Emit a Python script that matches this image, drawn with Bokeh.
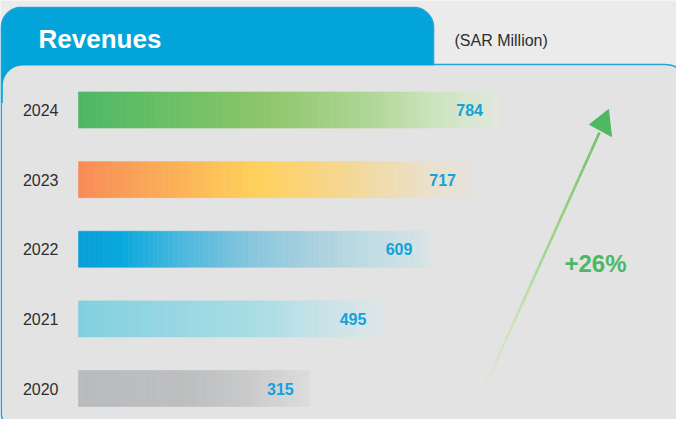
import numpy as np
from bokeh.plotting import figure
from bokeh.models import Range1d, ColumnDataSource
from bokeh.core.properties import value
from bokeh.embed import file_html
from bokeh.resources import INLINE

# ---------------- data ----------------
years = [2024, 2023, 2022, 2021, 2020]
revenues = [784, 717, 609, 495, 315]
title_text = "Revenues"
unit_text = "(SAR Million)"
growth_text = "+26%"

# ---------------- styles ----------------
BG = "#ebebeb"
PANEL = "#e3e3e3"
BLUE = "#03a4d9"
LINE_BLUE = "#22a4db"
VALUE_BLUE = "#13a2da"
GREEN = "#4cb865"
FONT = "Liberation Sans"

bar_stops = {
    2024: [(0.0, "#4cb765"), (0.25, "#6ec164"), (0.45, "#8fc66a"), (0.68, "#acd693"),
           (0.85, "#cde4be"), (1.0, "#e2e8df")],
    2023: [(0.0, "#f98b55"), (0.1, "#f99b58"), (0.25, "#fbb256"), (0.45, "#ffd15b"),
           (0.62, "#f8d584"), (0.79, "#efdcb1"), (0.89, "#ebe0cc"), (1.0, "#e6e2dc")],
    2022: [(0.0, "#0a9fd8"), (0.12, "#08a8dc"), (0.3, "#4db8de"), (0.5, "#8ac6dd"),
           (0.7, "#aed3df"), (0.85, "#c2dde4"), (1.0, "#d8e4e6")],
    2021: [(0.0, "#82d0df"), (0.4, "#9cd9e4"), (0.6, "#abdde5"), (0.8, "#c8e3e8"),
           (1.0, "#dde6e8")],
    2020: [(0.0, "#b8bbbe"), (0.5, "#bdbfc0"), (0.75, "#cacbcc"), (1.0, "#dcdcdd")],
}

W, H = 676, 419          # figure size (page margin 8px)
OX, OY = 8, 8            # page offset of figure

# value scale (bars begin at BASE)
PX_PER_VAL = 0.4034
ZERO_PX = 190.2           # page pixel where value 0 would sit
BASE = (86 - ZERO_PX) / PX_PER_VAL
x_start = (OX - ZERO_PX) / PX_PER_VAL
x_end = (OX + W - ZERO_PX) / PX_PER_VAL

PX_PER_YEAR = 69.625
Y_TOP_PX = 117.5          # page pixel of first year center
y_end = years[0] + (Y_TOP_PX - OY) / PX_PER_YEAR
y_start = years[0] - (OY + H - Y_TOP_PX) / PX_PER_YEAR
BAR_H = 36 / PX_PER_YEAR

p = figure(width=W, height=H, output_backend="svg", toolbar_location=None,
           x_range=Range1d(x_start, x_end), y_range=Range1d(y_start, y_end),
           x_axis_location=None, y_axis_location=None, min_border=0,
           background_fill_color=BG, border_fill_color=BG, outline_line_color=None)
p.grid.visible = False
p.extra_x_ranges = {"px": Range1d(OX, OX + W)}
p.extra_y_ranges = {"py": Range1d(OY + H, OY)}
PXR = dict(x_range_name="px", y_range_name="py")


def hex2rgb(h):
    h = h.lstrip("#")
    return np.array([int(h[i:i + 2], 16) for i in (0, 2, 4)], dtype=float)


def interp_colors(stops, t):
    ts = [s[0] for s in stops]
    cols = np.array([hex2rgb(s[1]) for s in stops])
    out = []
    for tt in t:
        rgb = [np.interp(tt, ts, cols[:, k]) for k in range(3)]
        out.append("#%02x%02x%02x" % tuple(int(round(c)) for c in rgb))
    return out


def arc(cx, cy, r, a0, a1, n=14):
    a = np.radians(np.linspace(a0, a1, n))
    return list(cx + r * np.cos(a)), list(cy + r * np.sin(a))


def rounded(x0, y0, x1, y1, rtl, rtr, rbr, rbl):
    xs, ys = [], []
    for cx, cy, r, a0, a1 in [(x0 + rtl, y0 + rtl, rtl, 180, 270),
                              (x1 - rtr, y0 + rtr, rtr, 270, 360),
                              (x1 - rbr, y1 - rbr, rbr, 0, 90),
                              (x0 + rbl, y1 - rbl, rbl, 90, 180)]:
        ax, ay = arc(cx, cy, r, a0, a1)
        xs += ax
        ys += ay
    return xs, ys


# ---------------- decorations ----------------
LEFT = 8.8
# tab
tx, ty = [], []
ax, ay = arc(LEFT + 20, 35, 20, 180, 270); tx += ax; ty += ay
ax, ay = arc(421, 35, 20, 270, 360); tx += ax; ty += ay
tx += [441, LEFT]; ty += [110, 110]
p.patch(tx, ty, fill_color=BLUE, line_color=BLUE, line_width=1, **PXR)

# inner panel
ix, iy = rounded(LEFT + 1.5, 73, 699, 435.5, 20, 27, 27, 14)
p.patch(ix, iy, fill_color=PANEL, line_color=None, **PXR)

# outline
ox, oy = [], []
ax, ay = arc(LEFT + 20, 35, 20, 180, 270); ox += ax; oy += ay
ax, ay = arc(421, 35, 20, 270, 360); ox += ax; oy += ay
ox += [441]; oy += [72]
ax, ay = arc(672, 100, 28, 270, 360); ox += ax; oy += ay
ax, ay = arc(672, 408, 28, 0, 90); ox += ax; oy += ay
ax, ay = arc(LEFT + 15, 421, 15, 90, 180); ox += ax; oy += ay
ox += [ox[0]]; oy += [oy[0]]
p.line(ox, oy, line_color=LINE_BLUE, line_width=1.6, **PXR)

# header texts
p.text(x=[46], y=[46], text=[title_text], text_color="white", text_font=value(FONT),
       text_font_style="bold", text_font_size="26px", text_align="left",
       text_baseline="middle", **PXR)
p.text(x=[462], y=[48], text=[unit_text], text_color="#2e2e2e", text_font=value(FONT),
       text_font_size="16px", text_align="left", text_baseline="middle", **PXR)

# ---------------- bars (gradient slices) ----------------
N = 70
L, R, Y, C = [], [], [], []
for yr, v in zip(years, revenues):
    edges = np.linspace(BASE, v, N + 1)
    t = (np.arange(N) + 0.5) / N
    cols = interp_colors(bar_stops[yr], t)
    L += list(edges[:-1]); R += list(edges[1:]); Y += [yr] * N; C += cols
src = ColumnDataSource(dict(left=L, right=R, y=Y, c=C))
p.hbar(y="y", left="left", right="right", height=BAR_H, fill_color="c",
       line_color="c", line_width=0.6, source=src)

# year labels
p.text(x=[BASE] * len(years), y=years, text=[str(y) for y in years], x_offset=-20,
       text_color="#2d2d2d", text_font=value(FONT), text_font_size="16px",
       text_align="right", text_baseline="middle")
# value labels
p.text(x=revenues, y=years, text=[str(v) for v in revenues], x_offset=-16,
       text_color=VALUE_BLUE, text_font=value(FONT), text_font_style="bold",
       text_font_size="16px", text_align="right", text_baseline="middle")

# ---------------- growth arrow ----------------
NS = 30
ax0, ay0, ax1, ay1 = 485, 410, 607, 140
ts = np.linspace(0, 1, NS + 1)
segx = [[ax0 + (ax1 - ax0) * ts[i], ax0 + (ax1 - ax0) * ts[i + 1]] for i in range(NS)]
segy = [[ay0 + (ay1 - ay0) * ts[i], ay0 + (ay1 - ay0) * ts[i + 1]] for i in range(NS)]
segc = interp_colors([(0.0, "#e3e5e1"), (0.3, "#c9e3b8"), (0.6, "#9cd585"), (1.0, "#6cc460")],
                     (ts[:-1] + ts[1:]) / 2)
p.multi_line(segx, segy, line_color=segc, line_width=2.6, **PXR)
p.patch([616, 597, 619], [117, 132, 144], fill_color="#4fb962", line_color="#4fb962",
        line_width=1, **PXR)
p.text(x=[572], y=[271], text=[growth_text], text_color=GREEN, text_font=value(FONT),
       text_font_style="bold", text_font_size="24px", text_align="left",
       text_baseline="middle", **PXR)

open("out.html", "w").write(file_html(p, INLINE))
